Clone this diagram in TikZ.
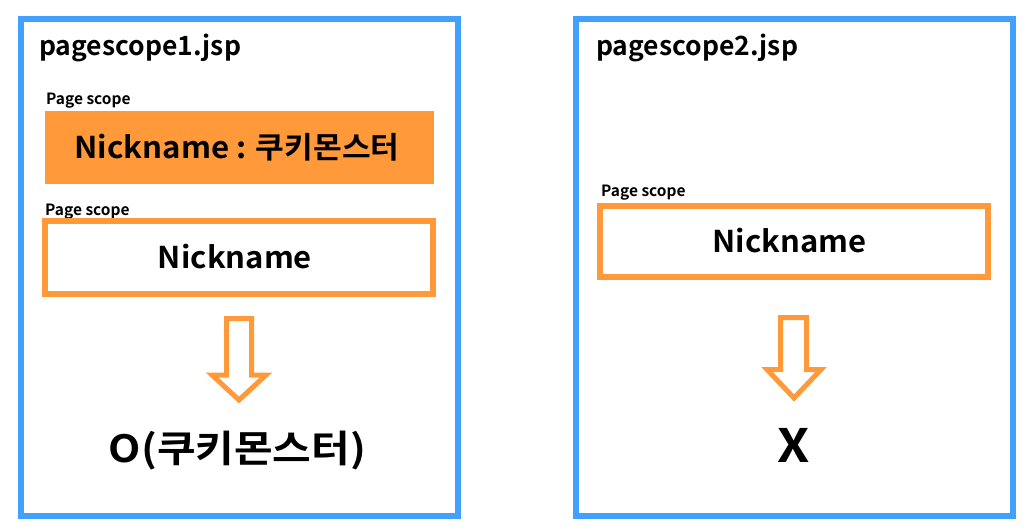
\documentclass[tikz,border=0pt]{standalone}
\usepackage{fontspec}
\setmainfont{Noto Sans CJK KR}[BoldFont={* Bold}]
\definecolor{bluebx}{RGB}{66,160,255}
\definecolor{orng}{RGB}{255,153,58}
\newcommand{\hs}[2]{\scalebox{#1}[1]{#2}}
\begin{document}
\begin{tikzpicture}[x=1pt,y=-1pt,
  page/.style={draw=bluebx,line width=6pt},
  title/.style={anchor=base west,inner sep=0pt,font=\bfseries\fontsize{26.5}{30}\selectfont},
  lbl/.style={anchor=base west,inner sep=0pt,font=\bfseries\fontsize{15.5}{17}\selectfont},
  big/.style={inner sep=0pt,font=\bfseries\fontsize{30}{36}\selectfont},
  arr/.style={draw=orng,line width=5pt,fill=white,line join=miter}]
\useasboundingbox (0,0) rectangle (1033,528);
\fill[white] (0,0) rectangle (1033,528);
% left page
\draw[page] (20.5,19) rectangle (458,516);
\node[title] (t1) at (39,55) {pagescope1.jsp};
\node[lbl] (l1) at (46,104) {Page scope};
\fill[orng] (45,111) rectangle (434,184);
\node[big] (n1) at (237,147) {\hs{1.04}{Nickname : 쿠키몬스터}};
\node[lbl] (l2) at (45,215) {Page scope};
\draw[draw=orng,line width=6pt] (45,221) rectangle (433,294);
\node[big] (n2) at (235,257) {\hs{1.035}{Nickname}};
\draw[arr] (226.5,318.5) -- (251.5,318.5) -- (251.5,375) -- (266,375) -- (239,400) -- (212,375) -- (226.5,375) -- cycle;
\node[inner sep=0pt,font=\bfseries\fontsize{37.5}{44}\selectfont] (r1) at (237.5,451) {\hs{1.12}{O(쿠키몬스터)}};
% right page
\draw[page] (576,19) rectangle (1013,516);
\node[title] (t2) at (596,55) {pagescope2.jsp};
\node[lbl] (l3) at (601,196) {Page scope};
\draw[draw=orng,line width=6pt] (600,206) rectangle (988,277);
\node[big] (n3) at (789.5,241) {\hs{1.035}{Nickname}};
\draw[arr] (780.5,317.5) -- (806.5,317.5) -- (806.5,369.5) -- (821,369.5) -- (794,398) -- (767,369.5) -- (780.5,369.5) -- cycle;
\node[inner sep=0pt,font=\bfseries\fontsize{46}{56}\selectfont] (r2) at (794,445.5) {\hs{1.12}{X}};
\end{tikzpicture}
\end{document}
